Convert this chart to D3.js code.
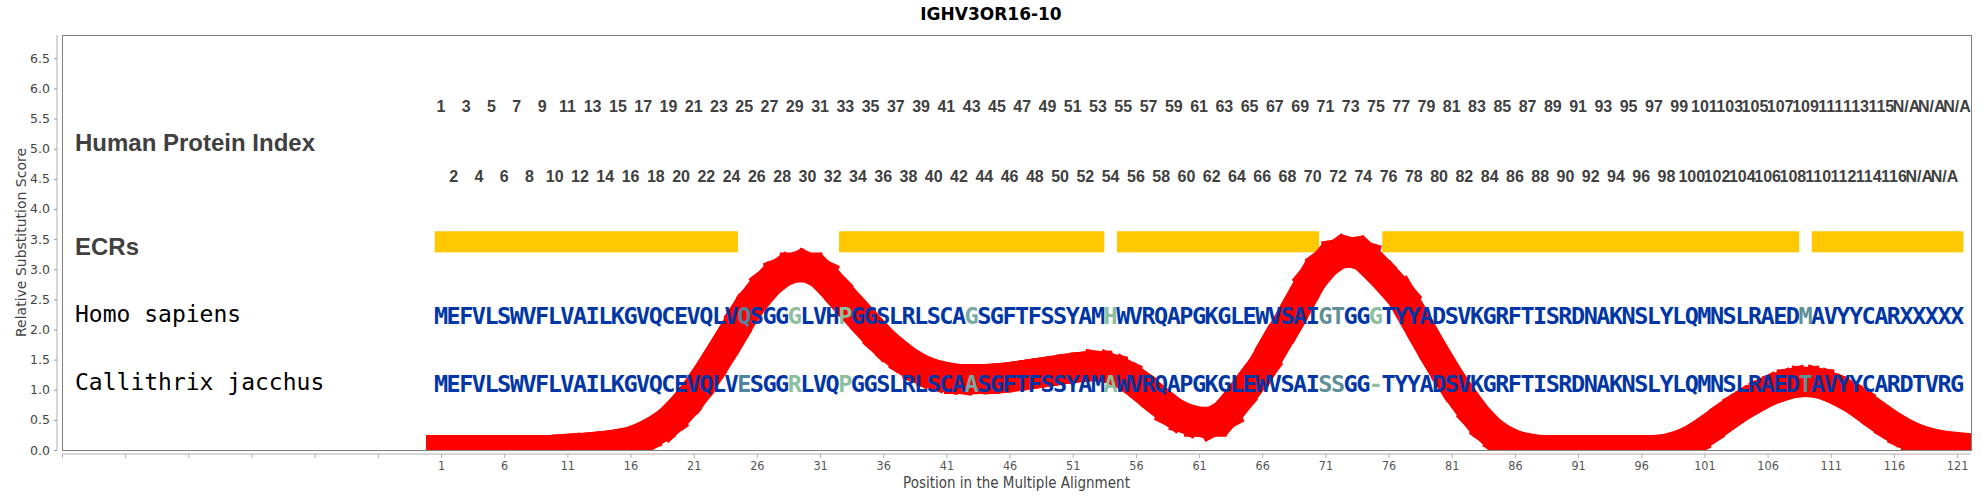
<!DOCTYPE html>
<html>
<head>
<meta charset="utf-8">
<script src="https://cdnjs.cloudflare.com/ajax/libs/d3/7.8.5/d3.min.js"></script>
<style>
  body { margin: 0; background: #fff; }
  svg { display: block; }
</style>
</head>
<body>
<svg width="1982" height="500"></svg>
<script>
// chart data
var title = "IGHV3OR16-10";
var humanSeq  = "MEFVLSWVFLVAILKGVQCEVQLVQSGGGLVHPGGSLRLSCAGSGFTFSSYAMHWVRQAPGKGLEWVSAIGTGGGTYYADSVKGRFTISRDNAKNSLYLQMNSLRAEDMAVYYCARXXXXX";
var marmosetSeq = "MEFVLSWVFLVAILKGVQCEVQLVESGGRLVQPGGSLRLSCAASGFTFSSYAMAWVRQAPGKGLEWVSAISSGG-TYYADSVKGRFTISRDNAKNSLYLQMNSLRAEDTAVYYCARDTVRG";
var species = ["Homo sapiens", "Callithrix jacchus"];

// conserved regions (alignment positions, inclusive)
var ecrs = [[1, 24], [33, 53], [55, 70], [76, 108], [110, 121]];

// substitution class of the differing positions
var diffClass = {25: "a", 29: "d", 33: "d", 43: "c", 54: "d", 71: "b", 72: "b", 75: "d", 109: "b"};
var classColor = {a: "#4e86a0", b: "#5f9098", c: "#78a8a2", d: "#8dbf9e"};

// relative substitution score at positions 1..121
var scores = [
  0, 0, 0, 0, 0, 0, 0, 0, 0, 0,
  0.02, 0.03, 0.05, 0.07, 0.1, 0.14, 0.22, 0.33, 0.47, 0.68,
  0.93, 1.23, 1.56, 1.9, 2.26, 2.55, 2.79, 2.95, 3.03, 3.03,
  2.93, 2.72, 2.48, 2.25, 2.02, 1.8, 1.62, 1.46, 1.34, 1.26,
  1.21, 1.18, 1.18, 1.18, 1.19, 1.21, 1.24, 1.27, 1.3, 1.33,
  1.36, 1.38, 1.39, 1.35, 1.26, 1.12, 0.95, 0.78, 0.62, 0.52,
  0.47, 0.47, 0.58, 0.82, 1.1, 1.38, 1.75, 2.1, 2.48, 2.85,
  3.1, 3.25, 3.28, 3.22, 3.02, 2.8, 2.56, 2.2, 1.83, 1.47,
  1.13, 0.83, 0.55, 0.33, 0.18, 0.08, 0.03, 0, 0, 0,
  0, 0, 0, 0, 0, 0, 0, 0.02, 0.08, 0.17,
  0.3, 0.45, 0.6, 0.74, 0.86, 0.97, 1.05, 1.11, 1.13, 1.11,
  1.04, 0.94, 0.82, 0.67, 0.52, 0.38, 0.26, 0.17, 0.11, 0.07,
  0.05
];

var yTicks = [0, 0.5, 1, 1.5, 2, 2.5, 3, 3.5, 4, 4.5, 5, 5.5, 6, 6.5];
var xTicks = d3.range(-29, 122, 5);

// human protein index per alignment position (X = not available)
var humanIndex = [];
(function() {
  var n = 0;
  humanSeq.split("").forEach(function(c) {
    if (c === "X") { humanIndex.push("N/A"); }
    else if (c === "-") { humanIndex.push(""); }
    else { n += 1; humanIndex.push(String(n)); }
  });
})();

// layout
var svg = d3.select("svg"),
    plot = {left: 62, right: 1971, top: 35, bottom: 450};

var x = d3.scaleLinear().domain([-29, 122.1]).range([plot.left, plot.right]),
    y = d3.scaleLinear().domain([0, 6.887]).range([plot.bottom, plot.top]);

var sans = "'DejaVu Sans', sans-serif",
    sansC = "'DejaVu Sans Condensed', 'DejaVu Sans', sans-serif";

// title
svg.append("text")
  .attr("x", 991)
  .attr("y", 20)
  .attr("text-anchor", "middle")
  .style("font-family", sans)
  .style("font-weight", "bold")
  .style("font-size", "17px")
  .text(title);

// y axis
var yAxis = svg.append("g")
  .attr("transform", "translate(57,0)")
  .call(d3.axisLeft(y).tickValues(yTicks).tickFormat(d3.format(".1f")).tickSize(3).tickPadding(4));
yAxis.select(".domain").attr("stroke", "#b0b0b0").attr("d", "M0," + plot.top + "V" + plot.bottom);
yAxis.selectAll(".tick line").attr("stroke", "#999");
yAxis.selectAll(".tick text")
  .attr("fill", "#444")
  .style("font-family", sans)
  .style("font-size", "12.5px");

svg.append("text")
  .attr("transform", "translate(21," + ((plot.top + plot.bottom) / 2) + ") rotate(-90)")
  .attr("text-anchor", "middle")
  .attr("dy", "0.35em")
  .attr("fill", "#444")
  .style("font-family", sans)
  .style("font-size", "14px")
  .text("Relative Substitution Score");

// x axis
var xAxis = svg.append("g")
  .attr("transform", "translate(0,454)")
  .call(d3.axisBottom(x).tickValues(xTicks)
    .tickFormat(function(d) { return d >= 1 ? d : ""; })
    .tickSize(4).tickPadding(3));
xAxis.select(".domain").attr("stroke", "#b0b0b0").attr("d", "M" + plot.left + ",0H" + plot.right);
xAxis.selectAll(".tick line").attr("stroke", "#b0b0b0");
xAxis.selectAll(".tick text")
  .attr("fill", "#555")
  .style("font-family", sansC)
  .style("font-size", "12.5px");

svg.append("text")
  .attr("x", (plot.left + plot.right) / 2)
  .attr("y", 488)
  .attr("text-anchor", "middle")
  .attr("fill", "#444")
  .style("font-family", sansC)
  .style("font-size", "15px")
  .text("Position in the Multiple Alignment");

// clip for the plot area
svg.append("clipPath").attr("id", "clip")
  .append("rect")
  .attr("x", plot.left).attr("y", plot.top)
  .attr("width", plot.right - plot.left).attr("height", plot.bottom - plot.top);

var g = svg.append("g").attr("clip-path", "url(#clip)");

// ECR bars
g.selectAll("rect.ecr")
  .data(ecrs)
  .join("rect")
  .attr("class", "ecr")
  .attr("x", function(d) { return x(d[0] - 0.5); })
  .attr("width", function(d) { return x(d[1] + 0.5) - x(d[0] - 0.5); })
  .attr("y", y(3.63))
  .attr("height", y(3.28) - y(3.63))
  .attr("fill", "#ffc800");

// score line, drawn segment by segment with square caps
var pts = scores.map(function(v, i) { return [i + 1, v]; });
g.selectAll("line.seg")
  .data(d3.pairs(pts))
  .join("line")
  .attr("class", "seg")
  .attr("x1", function(d) { return x(d[0][0]); })
  .attr("y1", function(d) { return y(d[0][1]); })
  .attr("x2", function(d) { return x(d[1][0]); })
  .attr("y2", function(d) { return y(d[1][1]); })
  .attr("stroke", "#ff0000")
  .attr("stroke-width", 30)
  .attr("stroke-linecap", "square");

// row labels
var labelFont = "'Liberation Sans', Arial, sans-serif";
svg.append("text").attr("x", 75).attr("y", 151)
  .attr("fill", "#404040")
  .style("font-family", labelFont).style("font-weight", "bold").style("font-size", "24px")
  .text("Human Protein Index");
svg.append("text").attr("x", 75).attr("y", 255)
  .attr("fill", "#404040")
  .style("font-family", labelFont).style("font-weight", "bold").style("font-size", "24px")
  .text("ECRs");

var monoFont = "'DejaVu Sans Mono', monospace";
var seqRows = [
  {name: species[0], seq: humanSeq, labelY: 322, seqY: 324},
  {name: species[1], seq: marmosetSeq, labelY: 390, seqY: 392}
];

seqRows.forEach(function(row) {
  svg.append("text").attr("x", 75).attr("y", row.labelY)
    .attr("fill", "#000")
    .style("font-family", monoFont).style("font-size", "23px")
    .text(row.name);

  svg.append("g").selectAll("text")
    .data(row.seq.split(""))
    .join("text")
    .attr("x", function(d, i) { return x(i + 1); })
    .attr("y", row.seqY)
    .attr("text-anchor", "middle")
    .attr("fill", function(d, i) {
      var c = diffClass[i + 1];
      return c ? classColor[c] : "#0036a6";
    })
    .style("font-family", monoFont)
    .style("font-weight", "bold")
    .style("font-size", "23.5px")
    .text(function(d) { return d; });
});

// human protein index, odd positions above, even below
svg.append("g").selectAll("text")
  .data(humanIndex)
  .join("text")
  .attr("x", function(d, i) { return x(i + 1); })
  .attr("y", function(d, i) { return (i % 2 === 0) ? 112 : 182; })
  .attr("text-anchor", "middle")
  .attr("fill", "#404040")
  .style("font-family", "'Liberation Sans Narrow', 'Arial Narrow', sans-serif")
  .style("font-weight", "bold")
  .style("font-size", "16px")
  .text(function(d) { return d; });

// plot outline
svg.append("rect")
  .attr("x", plot.left + 0.5).attr("y", plot.top + 0.5)
  .attr("width", plot.right - plot.left).attr("height", plot.bottom - plot.top)
  .attr("fill", "none")
  .attr("stroke", "#808080");
</script>
</body>
</html>
